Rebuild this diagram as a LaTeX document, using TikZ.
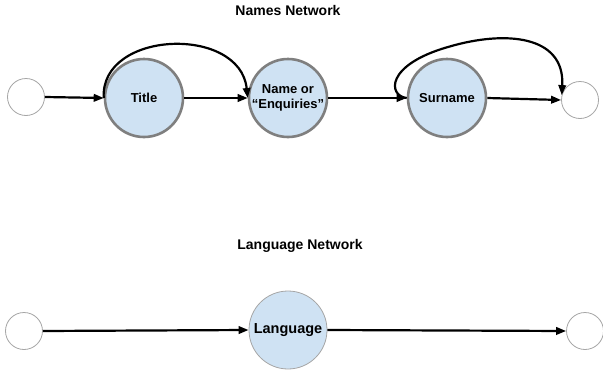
\documentclass[tikz,border=0pt]{standalone}
\usepackage{fontspec}
\setmainfont{Liberation Sans}
\usetikzlibrary{arrows.meta}
\definecolor{nodefill}{HTML}{CFE2F3}
\definecolor{thickgray}{HTML}{7F7F7F}
\definecolor{thingray}{HTML}{A6A6A6}
\begin{document}
\begin{tikzpicture}[x=1pt,y=-1pt,
  heading/.style={font=\fontsize{14}{16}\selectfont\bfseries},
  endpt/.style={circle,draw=thingray,line width=0.8pt,fill=white,minimum size=37pt,inner sep=0pt},
  state/.style={circle,draw=thickgray,line width=2.6pt,fill=nodefill,minimum size=78pt,inner sep=0pt,align=center,font=\fontsize{13}{14.5}\selectfont\bfseries},
  langstate/.style={circle,draw=thingray,line width=0.8pt,fill=nodefill,minimum size=78pt,inner sep=0pt,font=\fontsize{14.5}{16}\selectfont\bfseries},
  conn/.style={line width=2.2pt,-{Triangle[length=10pt,width=7.5pt]}}]
\useasboundingbox (0,0) rectangle (603,375);
% Names network
\node[heading] (t1) at (288,10) {Names Network};
\node[endpt] (l1) at (26,97) {};
\node[state] (title) at (144,98) {Title};
\node[state] (name) at (288,98) {Name or\\“Enquiries”};
\node[state] (sur) at (447,98) {Surname};
\node[endpt] (r1) at (580,100) {};
\draw[conn] (l1.east) -- (title.west);
\draw[conn] (title.east) -- (name.west);
\draw[conn] (name.east) -- (sur.west);
\draw[conn] (sur.east) -- (r1.west);
\draw[conn] (title.west) .. controls (100,30) and (240,25) .. (name.west);
\draw[conn] (sur.west) .. controls (388,96) and (385,65) .. (448,47) .. controls (505,30) and (565,35) .. (r1.165);
% Language network
\node[heading] (t2) at (300,246) {Language Network};
\node[endpt] (l2) at (24,331) {};
\node[langstate] (lang) at (288,330) {Language};
\node[endpt] (r2) at (585,331) {};
\draw[conn] (l2.east) -- (lang.west);
\draw[conn] (lang.east) -- (r2.west);
\end{tikzpicture}
\end{document}
